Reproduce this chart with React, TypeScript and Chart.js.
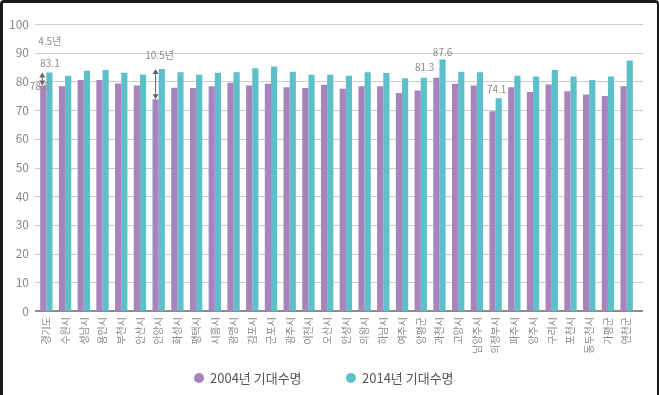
import React, { useEffect, useRef } from "react";
import { Chart, registerables } from "chart.js";

Chart.register(...registerables);

const categories = ["경기도", "수원시", "성남시", "용인시", "부천시", "안산시", "안양시", "화성시", "평택시", "시흥시", "광명시", "김포시", "군포시", "광주시", "이천시", "오산시", "안성시", "의왕시", "하남시", "여주시", "양평군", "과천시", "고양시", "남양주시", "의정부시", "파주시", "양주시", "구리시", "포천시", "동두천시", "가평군", "연천군"];
const life2004 = [78.6, 78.3, 80.5, 80.5, 79.3, 78.6, 73.8, 77.8, 77.7, 78.3, 79.5, 78.6, 79.2, 78.0, 77.7, 78.8, 77.4, 78.3, 78.3, 76.0, 76.8, 81.3, 79.2, 78.6, 69.6, 78.0, 76.3, 78.9, 76.6, 75.4, 74.9, 78.3];
const life2014 = [83.1, 82.0, 83.7, 84.0, 83.0, 82.4, 84.3, 83.2, 82.3, 83.0, 83.2, 84.6, 85.2, 83.4, 82.3, 82.3, 82.0, 83.2, 82.9, 81.1, 81.3, 87.6, 83.4, 83.2, 74.1, 82.0, 81.7, 84.0, 81.7, 80.5, 81.7, 87.3];
const seriesNames = ["2004년 기대수명", "2014년 기대수명"];
const yTicks = [0, 10, 20, 30, 40, 50, 60, 70, 80, 90, 100];

const PURPLE = "#a784be";
const TEAL = "#5cbfc9";
const FONT = "'Noto Sans CJK KR', 'Noto Sans', sans-serif";
const GRID_LEFT = 35;
const GRID_RIGHT = 643;

const gridPlugin = {
  id: "wideGrid",
  beforeDatasetsDraw(chart: any) {
    const ctx = chart.ctx;
    const y = chart.scales.y;
    ctx.save();
    yTicks.forEach((v) => {
      const py = Math.round(y.getPixelForValue(v));
      if (v === 0) {
        ctx.strokeStyle = "#8c8c8c";
        ctx.lineWidth = 2;
      } else {
        ctx.strokeStyle = "#cccccc";
        ctx.lineWidth = 1;
      }
      ctx.beginPath();
      const off = v === 0 ? 0 : 0.5;
      ctx.moveTo(GRID_LEFT, py + off);
      ctx.lineTo(GRID_RIGHT, py + off);
      ctx.stroke();
    });
    ctx.restore();
  },
};

const annotationPlugin = {
  id: "annots",
  afterDatasetsDraw(chart: any) {
    const ctx = chart.ctx;
    const y = chart.scales.y;
    const m0 = chart.getDatasetMeta(0).data;
    const m1 = chart.getDatasetMeta(1).data;
    ctx.save();
    ctx.font = "10px " + FONT;
    ctx.fillStyle = "#8a8a8a";
    ctx.textBaseline = "alphabetic";

    const arrow = (x: number, v1: number, v2: number) => {
      const y1 = y.getPixelForValue(v1);
      const y2 = y.getPixelForValue(v2);
      ctx.strokeStyle = "#666";
      ctx.fillStyle = "#666";
      ctx.lineWidth = 1;
      ctx.beginPath();
      ctx.moveTo(x, y1 + 3);
      ctx.lineTo(x, y2 - 3);
      ctx.stroke();
      ctx.beginPath();
      ctx.moveTo(x, y1);
      ctx.lineTo(x - 3, y1 + 5);
      ctx.lineTo(x + 3, y1 + 5);
      ctx.closePath();
      ctx.fill();
      ctx.beginPath();
      ctx.moveTo(x, y2);
      ctx.lineTo(x - 3, y2 - 5);
      ctx.lineTo(x + 3, y2 - 5);
      ctx.closePath();
      ctx.fill();
      ctx.fillStyle = "#8a8a8a";
    };

    const i0 = 0;
    arrow(m0[i0].x - 1, life2014[i0], life2004[i0]);
    ctx.textAlign = "left";
    ctx.fillText((life2014[i0] - life2004[i0]).toFixed(1) + "년", m0[i0].x - 5, y.getPixelForValue(life2014[i0]) - 28);
    ctx.fillText(life2014[i0].toFixed(1), m0[i0].x - 3, y.getPixelForValue(life2014[i0]) - 6);
    ctx.textAlign = "right";
    ctx.fillText(life2004[i0].toFixed(1), m0[i0].x + 6, y.getPixelForValue(life2004[i0]) + 5);

    const i6 = 6;
    arrow(m0[i6].x, life2014[i6], life2004[i6]);
    ctx.textAlign = "center";
    ctx.fillText((life2014[i6] - life2004[i6]).toFixed(1) + "년", m0[i6].x + 4, y.getPixelForValue(life2014[i6]) - 10);

    const i21 = 21;
    ctx.textAlign = "right";
    ctx.fillText(life2004[i21].toFixed(1), m0[i21].x - 2, y.getPixelForValue(life2004[i21]) - 7);
    ctx.textAlign = "center";
    ctx.fillText(life2014[i21].toFixed(1), m1[i21].x, y.getPixelForValue(life2014[i21]) - 4);

    const i24 = 24;
    ctx.textAlign = "center";
    ctx.fillText(life2014[i24].toFixed(1), m1[i24].x - 2, y.getPixelForValue(life2014[i24]) - 5);
    ctx.restore();
  },
};

export default function App() {
  const ref = useRef<HTMLCanvasElement>(null);
  useEffect(() => {
    const chart = new Chart(ref.current!, {
      type: "bar",
      data: {
        labels: categories,
        datasets: [
          { label: seriesNames[0], data: life2004, backgroundColor: PURPLE, categoryPercentage: 0.66, barPercentage: 1.0 },
          { label: seriesNames[1], data: life2014, backgroundColor: TEAL, categoryPercentage: 0.66, barPercentage: 1.0 },
        ],
      },
      options: {
        animation: false,
        responsive: false,
        maintainAspectRatio: false,
        layout: { padding: { left: 0, right: 23, top: 24, bottom: 0 } },
        plugins: {
          tooltip: { enabled: false },
          legend: { display: false },
        },
        scales: {
          x: {
            grid: { display: false, drawTicks: false },
            border: { display: false },
            afterFit: (s: any) => { s.height = 84; },
            ticks: {
              maxRotation: 90,
              minRotation: 90,
              autoSkip: false,
              padding: 6,
              color: "#888",
              font: { family: FONT, size: 10 },
            },
          },
          y: {
            min: 0,
            max: 100,
            afterBuildTicks: (s: any) => { s.ticks = yTicks.map((v) => ({ value: v })); },
            afterFit: (s: any) => { s.width = 37; },
            grid: { display: false, drawTicks: false },
            border: { display: false },
            ticks: {
              stepSize: 10,
              padding: 8,
              color: "#888",
              font: { family: FONT, size: 12 },
            },
          },
        },
      },
      plugins: [gridPlugin, annotationPlugin],
    });
    return () => chart.destroy();
  }, []);
  const legendItem = (color: string, text: string, left: number) => (
    <div style={{ position: "absolute", left, top: 368, display: "flex", alignItems: "center", fontFamily: FONT, fontSize: 13, color: "#555", whiteSpace: "nowrap" }}>
      <span style={{ display: "inline-block", width: 10, height: 10, borderRadius: "50%", background: color, marginRight: 6 }} />
      <span>{text}</span>
    </div>
  );
  return (
    <div style={{ position: "absolute", left: 0, top: 0, width: 659, height: 395, background: "#fff", overflow: "hidden" }}>
      <canvas ref={ref} width={659} height={395} style={{ display: "block", position: "absolute", left: 0, top: 0 }} />
      {legendItem(PURPLE, seriesNames[0], 194)}
      {legendItem(TEAL, seriesNames[1], 346)}
      <div style={{ position: "absolute", left: 0, top: 0, width: 659, height: 395, boxSizing: "border-box", borderTop: "3px solid #1a1a1a", borderLeft: "3px solid #1a1a1a", borderRight: "2px solid #1a1a1a", borderRadius: "4px 4px 0 0", pointerEvents: "none" }} />
    </div>
  );
}
